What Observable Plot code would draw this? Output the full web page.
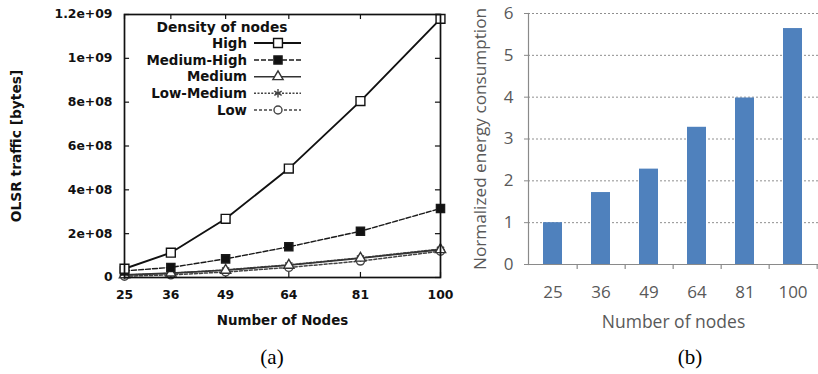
<!DOCTYPE html>
<html><head><meta charset="utf-8">
<script src="https://cdn.jsdelivr.net/npm/d3@7"></script>
<script src="https://cdn.jsdelivr.net/npm/@observablehq/plot@0.6"></script>
<style>
html,body{margin:0;padding:0;background:#fff;}
#root{position:relative;width:818px;height:374px;overflow:hidden;background:#fff;}
.panel{position:absolute;top:0;}
.cap{position:absolute;font-family:"Liberation Serif","Times New Roman",serif;font-size:21px;color:#000;transform:translate(-50%,-50%);white-space:nowrap;}
</style></head><body><div id="root"></div>
<script>
// ---------- data ----------
const nodes = [25, 36, 49, 64, 81, 100];
const seriesNames = ["High", "Medium-High", "Medium", "Low-Medium", "Low"];
const highVals = [4.0e7, 1.13e8, 2.68e8, 4.97e8, 8.05e8, 1.18e9];
const mediumHighVals = [3.0e7, 4.6e7, 8.5e7, 1.40e8, 2.11e8, 3.15e8];
const mediumVals = [1.2e7, 2.0e7, 3.3e7, 5.6e7, 8.8e7, 1.27e8];
const lowMediumVals = [1.1e7, 1.9e7, 3.5e7, 5.8e7, 9.0e7, 1.30e8];
const lowVals = [0.6e7, 1.2e7, 2.5e7, 4.6e7, 7.5e7, 1.20e8];
const yTicksA = [0, 2e8, 4e8, 6e8, 8e8, 1e9, 1.2e9];
const yTickLabelsA = ["0", "2e+08", "4e+08", "6e+08", "8e+08", "1e+09", "1.2e+09"];
const energy = [1.0, 1.72, 2.28, 3.28, 3.98, 5.64];
const yTicksB = [0, 1, 2, 3, 4, 5, 6];

// ---------- styles ----------
const seriesValues = [highVals, mediumHighVals, mediumVals, lowMediumVals, lowVals];
const seriesStyle = {
  "High":        {stroke: "#111", width: 1.9, dash: null,  symbol: "square",   fill: "white", r: 5},
  "Medium-High": {stroke: "#1a1a1a", width: 1.4, dash: "5,2", symbol: "square",   fill: "#111",  r: 4.6},
  "Medium":      {stroke: "#333", width: 1.6, dash: null,  symbol: "triangle", fill: "white", r: 3.8},
  "Low-Medium":  {stroke: "#444", width: 1.5, dash: "2,1.5", symbol: "asterisk", fill: "none",  r: 4},
  "Low":         {stroke: "#444", width: 1.5, dash: "3,2", symbol: "circle",   fill: "white", r: 4}
};

const root = document.getElementById("root");

// ---------- panel (a) ----------
const rowsA = seriesNames.flatMap((s, i) => nodes.map((n, j) => ({series: s, n, v: seriesValues[i][j]})));
const fontA = "'DejaVu Sans', sans-serif";
const marksA = [];
[...seriesNames].reverse().forEach(s => {
  const st = seriesStyle[s];
  marksA.push(Plot.line(rowsA.filter(d => d.series === s), {x: "n", y: "v", stroke: st.stroke, strokeWidth: st.width, strokeDasharray: st.dash}));
});
[...seriesNames].reverse().forEach(s => {
  const st = seriesStyle[s];
  marksA.push(Plot.dot(rowsA.filter(d => d.series === s), {x: "n", y: "v", symbol: st.symbol, r: st.r, stroke: st.stroke, strokeWidth: 1.4, fill: st.fill}));
});
const xd = [nodes[0], nodes[nodes.length - 1]];
const yd = [0, yTicksA[yTicksA.length - 1]];
const plotA = Plot.plot({
  width: 460, height: 340,
  marginLeft: 124, marginRight: 20, marginTop: 14, marginBottom: 63,
  x: {domain: xd},
  y: {domain: yd},
  style: {fontFamily: fontA, fontWeight: "bold", fontSize: "12.4px", color: "#111", background: "transparent"},
  marks: [
    // inward mirrored ticks
    Plot.ruleY(yTicksA, {x1: xd[0], x2: xd[0] + 1.2, stroke: "#111", strokeWidth: 1.2}),
    Plot.ruleY(yTicksA, {x1: xd[1] - 1.2, x2: xd[1], stroke: "#111", strokeWidth: 1.2}),
    Plot.ruleX(nodes, {y1: yd[0], y2: yd[0] + 2.3e7, stroke: "#111", strokeWidth: 1.2}),
    Plot.ruleX(nodes, {y1: yd[1] - 2.3e7, y2: yd[1], stroke: "#111", strokeWidth: 1.2}),
    ...marksA,
    Plot.frame({stroke: "#111", strokeWidth: 1.7}),
    Plot.axisY(yTicksA, {tickSize: 0, tickPadding: 12, tickFormat: d => yTickLabelsA[yTicksA.indexOf(d)], label: null}),
    Plot.axisX(nodes, {tickSize: 0, tickPadding: 13, tickFormat: d => String(d), label: null}),
    Plot.text(["OLSR traffic [bytes]"], {frameAnchor: "left", rotate: -90, dx: -108, fontSize: 13.8, lineAnchor: "middle", textAnchor: "middle"}),
    Plot.text(["Number of Nodes"], {frameAnchor: "bottom", dy: 43, fontSize: 13.4, lineAnchor: "middle", textAnchor: "middle"})
  ]
});
const wa = document.createElement("div");
wa.className = "panel"; wa.style.left = "0px";
wa.appendChild(plotA);
root.appendChild(wa);

// legend for (a)
const leg = d3.select(root).append("svg")
  .attr("width", 320).attr("height", 125)
  .style("position", "absolute").style("left", "0px").style("top", "0px")
  .style("font-family", fontA).style("font-weight", "bold").style("font-size", "13.4px");
leg.append("text").attr("x", 222).attr("y", 27).attr("text-anchor", "middle").attr("dominant-baseline", "central")
  .attr("fill", "#111").style("font-size", "13.8px").text("Density of nodes");
const symMap = {square: d3.symbolSquare, triangle: d3.symbolTriangle, asterisk: d3.symbolAsterisk, circle: d3.symbolCircle};
const legY = [43, 60, 76.7, 93.3, 110];
seriesNames.forEach((s, i) => {
  const st = seriesStyle[s];
  const g = leg.append("g").attr("transform", `translate(0,${legY[i]})`);
  g.append("text").attr("x", 247).attr("y", 0).attr("text-anchor", "end").attr("dominant-baseline", "central").attr("fill", "#111").text(s);
  g.append("line").attr("x1", 254).attr("x2", 301).attr("y1", 0).attr("y2", 0)
    .attr("stroke", st.stroke).attr("stroke-width", st.width).attr("stroke-dasharray", st.dash);
  g.append("path").attr("transform", "translate(278,0)")
    .attr("d", d3.symbol(symMap[st.symbol], Math.PI * st.r * st.r)())
    .attr("stroke", st.stroke).attr("stroke-width", 1.4).attr("fill", st.fill);
});

// ---------- panel (b) ----------
const rowsB = nodes.map((n, i) => ({n, v: energy[i]}));
const wB = 358, mlB = 68, mrB = 0;
const stepB = (wB - mlB - mrB) / nodes.length;
const plotB = Plot.plot({
  width: wB, height: 340,
  marginLeft: mlB, marginRight: mrB, marginTop: 13, marginBottom: 76,
  x: {type: "band", domain: nodes, paddingInner: 0.6, paddingOuter: 0.3},
  y: {domain: [yTicksB[0], yTicksB[yTicksB.length - 1]]},
  style: {fontFamily: "'Open Sans', sans-serif", fontSize: "17px", color: "#595959", background: "transparent"},
  marks: [
    Plot.ruleY(yTicksB.slice(1), {stroke: "#8f8f8f", strokeWidth: 1, strokeDasharray: "2,2"}),
    Plot.barY(rowsB, {x: "n", y: "v", fill: "#4F81BD"}),
    Plot.ruleY([0], {stroke: "#8a8a8a", strokeWidth: 1.2}),
    Plot.frame({anchor: "left", stroke: "#8a8a8a", strokeWidth: 1.2}),
    Plot.ruleX(nodes, {x: d => d, dx: stepB / 2, y1: 0, y2: -0.12, stroke: "#8a8a8a", strokeWidth: 1.2}),
    Plot.axisY(yTicksB, {tickSize: 4, tickPadding: 11, stroke: "#8a8a8a", label: null}),
    Plot.axisX(nodes, {tickSize: 0, tickPadding: 21, label: null}),
    Plot.text(["Normalized energy consumption"], {frameAnchor: "left", rotate: -90, dx: -48, lineAnchor: "middle", textAnchor: "middle", fontSize: 17.2}),
    Plot.text(["Number of nodes"], {frameAnchor: "bottom", dy: 58, lineAnchor: "middle", textAnchor: "middle", fontSize: 17.5})
  ]
});
const wb = document.createElement("div");
wb.className = "panel"; wb.style.left = "460px";
wb.appendChild(plotB);
root.appendChild(wb);

// captions
[["(a)", 272, 357], ["(b)", 690, 357]].forEach(([t, x, y]) => {
  const c = document.createElement("div");
  c.className = "cap"; c.textContent = t;
  c.style.left = x + "px"; c.style.top = y + "px";
  root.appendChild(c);
});
</script>
</body></html>
